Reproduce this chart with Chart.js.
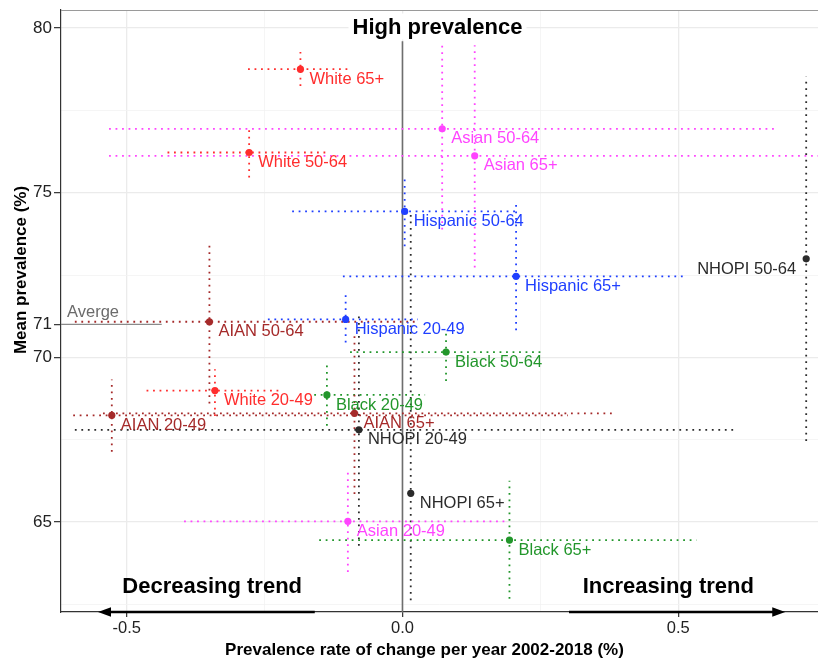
<!DOCTYPE html>
<html><head><meta charset="utf-8">
<script src="https://cdn.jsdelivr.net/npm/chart.js@4.4.1/dist/chart.umd.min.js"></script>
<style>html,body{margin:0;padding:0;background:#fff;}#wrap{width:818px;height:659px;}</style>
</head><body><div id="wrap"><canvas id="c" width="818" height="659"></canvas></div>
<script>
// ---- data ----
const groupLabels = ["White 20-49","White 50-64","White 65+","AIAN 20-49","AIAN 50-64","AIAN 65+","Asian 20-49","Asian 50-64","Asian 65+","Hispanic 20-49","Hispanic 50-64","Hispanic 65+","Black 20-49","Black 50-64","Black 65+","NHOPI 20-49","NHOPI 50-64","NHOPI 65+"];
const groups = ["White","White","White","AIAN","AIAN","AIAN","Asian","Asian","Asian","Hispanic","Hispanic","Hispanic","Black","Black","Black","NHOPI","NHOPI","NHOPI"];
const rateChange     = [-0.340,-0.278,-0.185,-0.527,-0.350,-0.087,-0.099, 0.072, 0.131,-0.103, 0.004, 0.206,-0.137, 0.079, 0.194,-0.079, 0.732, 0.015];
const meanPrevalence = [ 68.99, 76.22, 78.75, 68.24, 71.08, 68.30, 65.02, 76.94, 76.12, 71.15, 74.43, 72.46, 68.86, 70.16, 64.45, 67.80, 72.99, 65.87];
const rateLow  = [-0.464,-0.426,-0.280,-0.597,-0.594,-0.543,-0.396,-0.532,-0.532,-0.244,-0.200,-0.108,-0.160,-0.095,-0.151,-0.594, null, null];
const rateHigh = [-0.222,-0.134,-0.099, 0.300, 0.030, 0.382, 0.193, 0.675, 0.800, 0.028, 0.208, 0.516, 0.041, 0.252, 0.533, 0.603, null, null];
const prevLow  = [ 68.22, 75.46, 78.24, 67.13, 68.60, 65.85, 63.48, 73.88, 72.73, 70.45, 73.37, 70.82, 67.92, 69.28, 62.67, 64.28, 67.46, 62.62];
const prevHigh = [ 69.64, 76.98, 79.27, 69.33, 73.52, 70.76, 66.56, 79.48, 79.48, 71.89, 75.49, 74.74, 69.79, 70.75, 66.25, 71.36, 78.52, 74.43];
const labelSide = ["right","right","right","right","right","right","right","right","right","right","right","right","right","right","right","right","left","right"];
const groupColors = {White:"#FF2D2D", AIAN:"#A52A2A", Asian:"#FF44FF", Hispanic:"#1F3FFF", Black:"#22962B", NHOPI:"#2b2b2b"};

const xMajorTicks = [-0.5, 0, 0.5];
const xMinorTicks = [-0.25, 0.25];
const yMajorTicks = [65, 70, 71, 75, 80];
const yMinorTicks = [62.5, 67.5, 72.5, 77.5];
const xRange = [-0.6191, 0.7534];
const yRange = [62.267, 80.547];

const averageValue = 71;
const averageLineEnd = -0.4365;
const zeroLineTop = 79.6;
const arrowDecreasing = [-0.159, -0.552];
const arrowIncreasing = [0.302, 0.694];
const trendText = ["Decreasing trend", "Increasing trend"];
const trendTextX = [-0.345, 0.482];
const trendTextY = 62.84;

const FONT = "'Liberation Sans', Arial, Helvetica, sans-serif";

// ---- datasets ----
const datasets = [];
datasets.push({
  type: "scatter",
  data: rateChange.map((x, i) => ({x: x, y: meanPrevalence[i]})),
  pointBackgroundColor: groups.map(g => groupColors[g]),
  pointBorderWidth: 0, pointRadius: 3.6, order: 0
});
const dotted = {borderWidth: 1.8, borderDash: [1.8, 4.7], pointRadius: 0, fill: false, tension: 0, order: 2};
for (let i = 0; i < groupLabels.length; i++) {
  const col = groupColors[groups[i]];
  if (rateLow[i] !== null) {
    datasets.push(Object.assign({type: "line", borderColor: col,
      data: [{x: rateLow[i], y: meanPrevalence[i]}, {x: rateHigh[i], y: meanPrevalence[i]}]}, dotted));
  }
  datasets.push(Object.assign({type: "line", borderColor: col,
    data: [{x: rateChange[i], y: prevLow[i]}, {x: rateChange[i], y: prevHigh[i]}]}, dotted));
}
datasets.push({type: "line", data: [{x: 0, y: zeroLineTop}, {x: 0, y: yRange[0]}], borderColor: "#6e6e6e", borderWidth: 1.6, pointRadius: 0, order: 3});
datasets.push({type: "line", data: [{x: xRange[0], y: averageValue}, {x: averageLineEnd, y: averageValue}], borderColor: "#8a8a8a", borderWidth: 1.4, pointRadius: 0, order: 3});

const annot = {
  id: "annot",
  afterDatasetsDraw(chart) {
    const ctx = chart.ctx, xs = chart.scales.x, ys = chart.scales.y, ca = chart.chartArea;
    ctx.save();
    ctx.font = "16.5px " + FONT;
    ctx.textBaseline = "alphabetic";
    for (let i = 0; i < groupLabels.length; i++) {
      const px = xs.getPixelForValue(rateChange[i]), py = ys.getPixelForValue(meanPrevalence[i]);
      ctx.fillStyle = groupColors[groups[i]];
      if (labelSide[i] === "left") { ctx.textAlign = "right"; ctx.fillText(groupLabels[i], px - 10, py + 14.7); }
      else { ctx.textAlign = "left"; ctx.fillText(groupLabels[i], px + 9, py + 14.7); }
    }
    ctx.fillStyle = "#6b6b6b"; ctx.textAlign = "left";
    ctx.fillText("Averge", ca.left + 6, ys.getPixelForValue(averageValue) - 7.7);
    ctx.font = "bold 22px " + FONT;
    const hpX = (ca.left + ca.right) / 2 - 2, hpBase = ys.getPixelForValue(80) + 5.5;
    const w = ctx.measureText("High prevalence").width;
    ctx.fillStyle = "#fff";
    ctx.fillRect(hpX - w / 2 - 4, hpBase - 20, w + 8, 26);
    ctx.fillStyle = "#000"; ctx.textAlign = "center";
    ctx.fillText("High prevalence", hpX, hpBase);
    for (let k = 0; k < 2; k++) {
      ctx.fillText(trendText[k], xs.getPixelForValue(trendTextX[k]), ys.getPixelForValue(trendTextY));
    }
    const ay = ys.getPixelForValue(yRange[0]);
    [arrowDecreasing, arrowIncreasing].forEach(a => {
      const x0 = xs.getPixelForValue(a[0]), x1 = xs.getPixelForValue(a[1]);
      const dir = Math.sign(x1 - x0);
      ctx.strokeStyle = "#000"; ctx.lineWidth = 2.6;
      ctx.beginPath(); ctx.moveTo(x0, ay); ctx.lineTo(x1 - dir * 8, ay); ctx.stroke();
      ctx.fillStyle = "#000";
      ctx.beginPath(); ctx.moveTo(x1, ay); ctx.lineTo(x1 - dir * 13, ay - 4.8); ctx.lineTo(x1 - dir * 13, ay + 4.8); ctx.closePath(); ctx.fill();
    });
    ctx.strokeStyle = "#9a9a9a"; ctx.lineWidth = 1.2;
    ctx.beginPath(); ctx.moveTo(ca.left, ca.top + 0.5); ctx.lineTo(ca.right, ca.top + 0.5); ctx.stroke();
    ctx.fillStyle = "#000"; ctx.font = "bold 17px " + FONT;
    ctx.textAlign = "center"; ctx.textBaseline = "middle";
    ctx.fillText("Prevalence rate of change per year 2002-2018 (%)", 424.5, 650);
    ctx.translate(21, 270); ctx.rotate(-Math.PI / 2);
    ctx.fillText("Mean prevalence (%)", 0, 0);
    ctx.restore();
  }
};

const isIn = (arr, v) => arr.some(a => Math.abs(a - v) < 1e-9);
const noPad = s => { s.paddingTop = 0; s.paddingBottom = 0; s.paddingLeft = 0; s.paddingRight = 0; };

new Chart(document.getElementById("c"), {
  type: "scatter",
  data: {datasets: datasets},
  options: {
    responsive: false, devicePixelRatio: 1, animation: false,
    layout: {autoPadding: false, padding: {top: 10, right: 0, left: 0, bottom: 0}},
    plugins: {legend: {display: false}, tooltip: {enabled: false}},
    scales: {
      x: {
        type: "linear", min: xRange[0], max: xRange[1],
        afterBuildTicks: s => { s.ticks = xMinorTicks.concat(xMajorTicks).sort((a, b) => a - b).map(v => ({value: v})); },
        afterFit: s => { s.height = 47; noPad(s); },
        ticks: {autoSkip: false, maxRotation: 0, padding: 2, color: "#222", font: {family: FONT, size: 16.5},
          callback: v => isIn(xMajorTicks, v) ? Number(v).toFixed(1) : ""},
        grid: {
          color: c => (c.tick && isIn(xMajorTicks, c.tick.value)) ? "#EBEBEB" : "#F2F2F2",
          lineWidth: c => (c.tick && isIn(xMajorTicks, c.tick.value)) ? 1.3 : 0.8,
          tickColor: c => (c.tick && isIn(xMajorTicks, c.tick.value)) ? "#333" : "rgba(0,0,0,0)",
          tickWidth: 1.2, tickLength: 5
        },
        border: {display: true, color: "#333", width: 1.2}
      },
      y: {
        type: "linear", min: yRange[0], max: yRange[1],
        afterBuildTicks: s => { s.ticks = yMinorTicks.concat(yMajorTicks).sort((a, b) => a - b).map(v => ({value: v})); },
        afterFit: s => { s.width = 61; noPad(s); },
        ticks: {autoSkip: false, padding: 2, color: "#222", font: {family: FONT, size: 17},
          callback: v => isIn(yMajorTicks, v) ? String(v) : ""},
        grid: {
          color: c => {
            if (!c.tick) return "#EBEBEB";
            if (c.tick.value === averageValue) return "rgba(0,0,0,0)";
            return isIn(yMajorTicks, c.tick.value) ? "#EBEBEB" : "#F2F2F2";
          },
          lineWidth: c => (c.tick && isIn(yMajorTicks, c.tick.value)) ? 1.3 : 0.8,
          tickColor: c => (c.tick && isIn(yMajorTicks, c.tick.value)) ? "#333" : "rgba(0,0,0,0)",
          tickWidth: 1.2, tickLength: 7
        },
        border: {display: true, color: "#333", width: 1.2}
      }
    }
  },
  plugins: [annot]
});
</script>
</body></html>
